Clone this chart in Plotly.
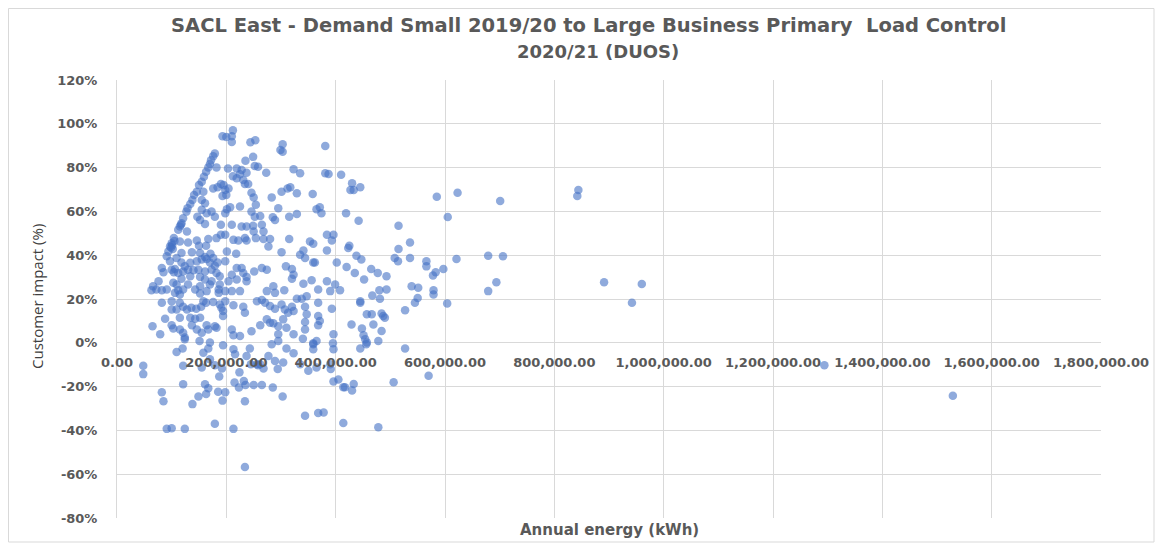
import plotly.graph_objects as go

# Annual energy (kWh, in thousands) and customer impact (%)
energy_k = [
    212,193,200,210,210,244,253,303,299,303,179,176,172,170,167,163,159,155,150,146,
    141,138,134,129,127,121,117,182,203,219,228,237,235,249,252,258,273,323,335,212,
    219,225,231,240,234,190,184,176,195,198,204,193,200,246,250,283,295,301,312,329,
    158,155,161,155,147,152,164,173,179,198,201,207,225,246,254,252,262,285,289,315,
    329,190,210,228,249,265,
    115,112,118,128,161,237,250,268,104,100,97,102,94,115,130,146,150,163,167,182,
    190,198,213,222,234,237,254,268,280,277,315,301,118,137,152,161,171,176,184,198,
    201,218,91,97,109,118,124,134,146,155,164,170,179,82,85,100,106,104,112,121,
    130,140,149,161,173,182,188,210,219,228,231,237,251,265,274,309,320,323,204,219,
    237,118,134,152,161,173,130,152,170,188,76,66,63,72,82,91,103,109,112,106,
    115,121,143,152,164,186,186,198,210,225,286,274,289,306,320,329,
    82,100,100,109,115,121,128,136,145,154,158,163,176,188,191,194,198,213,231,234,
    256,265,271,280,289,301,307,313,320,
    65,79,88,100,103,115,115,121,124,134,137,143,146,152,155,164,167,179,182,194,
    210,213,225,246,262,274,280,286,295,295,304,310,323,
    109,120,124,151,158,167,170,194,213,216,237,243,256,262,277,283,289,295,304,310,
    323,335,48,48,121,155,179,192,187,170,224,245,258,268,294,121,161,167,185,198,
    193,215,223,232,235,250,265,285,303,234,82,85,138,149,163,91,100,124,179,213,234,
    381,381,387,410,430,427,433,445,317,358,585,623,701,365,371,374,419,442,515,605,
    353,359,384,396,393,384,425,423,536,515,335,341,344,359,362,402,420,435,438,447,
    465,477,493,508,514,536,566,566,583,578,597,621,679,706,341,356,384,399,390,408,
    452,480,467,481,493,539,551,579,579,550,545,527,604,679,694,338,347,368,368,393,
    445,445,457,466,487,490,484,429,448,469,484,527,323,344,347,368,371,368,344,344,
    340,396,451,454,457,478,359,365,
    359,395,396,359,445,456,350,365,390,391,396,405,417,414,430,433,506,570,344,368,
    378,414,478,
    844,842,891,960,942,1294,1529,
    101,99,105,
]

impact_pct = [
    97.0,94.3,94.0,94.3,91.7,91.6,92.5,90.7,88.0,87.2,86.4,85.2,83.4,81.6,80.1,78.1,75.8,73.5,72.0,69.0,
    67.5,65.2,63.4,61.4,59.9,56.9,53.9,80.1,79.6,79.6,78.9,77.6,83.1,84.9,80.7,80.4,77.6,79.2,77.4,76.1,
    75.1,77.0,74.3,72.5,72.5,72.5,71.0,70.5,72.0,69.8,70.5,67.0,67.5,68.5,66.4,66.4,61.4,69.0,70.5,68.3,
    69.0,65.2,63.7,60.7,57.6,56.1,59.2,59.9,57.6,59.2,61.0,61.9,62.2,59.9,63.0,57.6,57.9,57.3,56.1,57.6,
    58.8,53.9,53.9,53.1,53.4,53.9,
    53.1,51.6,54.6,50.8,54.3,53.1,50.8,50.8,47.8,45.5,44.0,42.8,41.7,46.3,45.8,46.7,44.3,44.3,47.4,47.8,
    49.3,49.3,47.0,46.7,47.8,46.7,47.8,47.4,47.4,44.0,47.4,41.3,41.0,41.3,41.0,39.2,40.7,38.7,36.7,37.2,
    41.7,40.7,39.5,37.2,38.7,36.7,34.9,36.5,37.2,38.0,38.3,36.7,35.2,34.2,32.2,33.4,33.7,32.2,31.9,32.6,
    33.4,33.1,33.4,32.6,33.4,31.9,30.4,31.1,34.2,34.2,31.9,30.1,32.6,34.2,33.4,34.9,33.7,31.1,28.1,28.9,
    28.1,29.2,30.4,30.1,28.9,28.1,26.6,25.8,26.6,26.6,28.1,25.8,24.0,24.3,24.0,24.3,27.4,26.6,24.0,22.8,
    22.1,24.3,24.3,22.5,23.6,24.3,22.8,23.6,23.6,23.6,25.8,23.6,22.8,24.0,29.2,20.1,
    18.3,19.0,15.2,15.2,18.3,16.5,15.2,16.0,15.6,16.5,19.0,18.3,18.6,17.5,16.0,14.5,19.0,17.1,16.5,13.7,
    19.0,19.5,18.3,16.8,15.6,17.5,15.2,13.7,16.5,
    7.6,3.9,11.0,8.0,6.5,11.4,6.1,4.6,2.4,11.4,8.0,11.0,6.1,11.4,4.6,8.0,6.1,7.6,6.9,12.2,
    6.1,3.4,3.1,5.3,8.0,10.7,9.2,8.9,7.6,3.9,10.7,6.9,3.9,
    -4.2,-2.6,1.6,0.8,-4.5,-2.6,0.1,-1.1,-2.9,-5.2,-6.0,-2.6,-9.8,-9.8,-6.0,-0.7,-8.3,0.8,-9.0,-2.6,
    -4.8,-9.8,-10.5,-14.3,-10.5,-11.3,-10.2,-11.7,-15.4,-7.5,-13.5,-9.8,-10.2,-11.7,-12.0,-18.9,-18.9,-20.8,-22.4,-22.6,
    -26.4,-18.1,-20.4,-17.4,-19.3,-19.3,-19.3,-20.4,-24.5,-26.7,-22.6,-26.7,-28.0,-24.5,-23.4,-39.3,-39.0,-39.3,-37.0,-39.3,-56.7,
    89.9,77.4,77.1,76.7,72.9,69.8,69.8,71.0,71.0,67.9,66.7,68.5,64.8,61.0,61.9,59.2,59.2,55.7,53.4,57.4,
    46.3,45.2,49.3,49.3,46.7,42.2,44.3,43.3,45.8,42.8,40.2,42.1,38.7,36.7,36.7,36.7,34.6,31.9,39.8,38.0,
    33.7,31.9,30.4,38.7,37.2,38.7,37.2,34.9,32.2,30.7,33.7,38.3,39.8,39.5,27.0,28.6,28.1,26.6,23.6,24.0,
    28.9,24.0,21.6,20.1,24.3,25.8,25.1,24.0,22.1,20.5,18.3,14.9,18.0,23.6,27.6,20.1,21.3,24.3,18.3,15.6,
    19.0,18.3,13.0,13.0,12.2,11.4,13.4,8.4,6.5,8.4,5.4,-2.6,14.5,16.5,13.0,12.2,10.0,8.0,9.5,6.1,
    1.9,3.9,3.4,1.6,0.1,0.8,-0.2,0.8,
    -0.7,-0.2,-2.9,-2.9,-2.6,-0.7,-12.8,-11.3,-9.8,-12.0,-17.7,-16.8,-20.3,-20.3,-21.8,-18.8,-18.0,-15.0,-33.3,-32.1,
    -31.8,-36.6,-38.6,
    69.8,67.0,27.6,26.9,18.3,-10.2,-24.2,
    44.5,43.5,46.5,
]

n = min(len(energy_k), len(impact_pct))
energy_kwh = [v * 1000 for v in energy_k[:n]]
impact = impact_pct[:n]

x_ticks = [0, 200000, 400000, 600000, 800000, 1000000, 1200000, 1400000, 1600000, 1800000]
y_ticks = [-80, -60, -40, -20, 0, 20, 40, 60, 80, 100, 120]
y_tick_text = [f"{v}%" for v in y_ticks]

title_line1 = "SACL East - Demand Small 2019/20 to Large Business Primary  Load Control"
title_line2 = "2020/21 (DUOS)"
x_title = "Annual energy (kWh)"
y_title = "Customer impact (%)"

grey = "#595959"
grid = "#d9d9d9"

# page body has an 8px margin; figure sized to fit the 1163x551 window
W, H = 1147, 535
L, T = 109, 72
pw, ph = 984, 438
R = W - L - pw
B = H - T - ph


def px(xs):  # reference screen x -> paper
    return (xs - 117) / pw


def py(ys):  # reference screen y -> paper
    return (518 - ys) / ph


fig = go.Figure()
fig.add_trace(go.Scatter(
    x=energy_kwh, y=impact, mode="markers",
    marker=dict(size=8.5, color="rgba(68,114,196,0.6)", line=dict(width=0)),
    hoverinfo="x+y", showlegend=False,
))

fig.update_layout(
    width=W, height=H,
    margin=dict(l=L, r=R, t=T, b=B, autoexpand=False),
    paper_bgcolor="white", plot_bgcolor="white",
    showlegend=False,
    xaxis=dict(
        range=[0, 1800000], tickvals=x_ticks, tickformat=",.2f",
        showgrid=True, gridcolor=grid, gridwidth=1, zeroline=False,
        showline=False, anchor="free", position=0.4,
        tickfont=dict(family="DejaVu Sans", size=13, color=grey, weight="bold"),
        ticks="", ticklabelstandoff=10,
    ),
    yaxis=dict(
        range=[-80, 120], tickvals=y_ticks, ticktext=y_tick_text,
        showgrid=True, gridcolor=grid, gridwidth=1, zeroline=False,
        showline=True, linecolor=grid, linewidth=1,
        tickfont=dict(family="DejaVu Sans", size=13, color=grey, weight="bold"),
        ticks="", ticklabelstandoff=16,
    ),
)

fig.add_annotation(
    text="<b>" + title_line1 + "</b>", xref="paper", yref="paper",
    x=px(588), y=py(26), xanchor="center", yanchor="middle", showarrow=False,
    font=dict(family="DejaVu Sans", size=19.5, color=grey),
)
fig.add_annotation(
    text="<b>" + title_line2 + "</b>", xref="paper", yref="paper",
    x=px(598), y=py(52), xanchor="center", yanchor="middle", showarrow=False,
    font=dict(family="DejaVu Sans", size=18, color=grey),
)
fig.add_annotation(
    text=x_title, xref="paper", yref="paper",
    x=px(609), y=py(530), xanchor="center", yanchor="middle", showarrow=False,
    font=dict(family="DejaVu Sans", size=15, color=grey, weight="bold"),
)
fig.add_annotation(
    text=y_title, xref="paper", yref="paper",
    x=px(37), y=py(297), textangle=-90,
    xanchor="center", yanchor="middle", showarrow=False,
    font=dict(family="Open Sans", size=15, color="#404040"),
)
fig.add_shape(
    type="rect", xref="paper", yref="paper",
    x0=px(8.5), x1=px(1154), y0=py(542), y1=py(8.5),
    line=dict(color=grid, width=1), fillcolor="rgba(0,0,0,0)", layer="below",
)

fig.write_html("out.html")
